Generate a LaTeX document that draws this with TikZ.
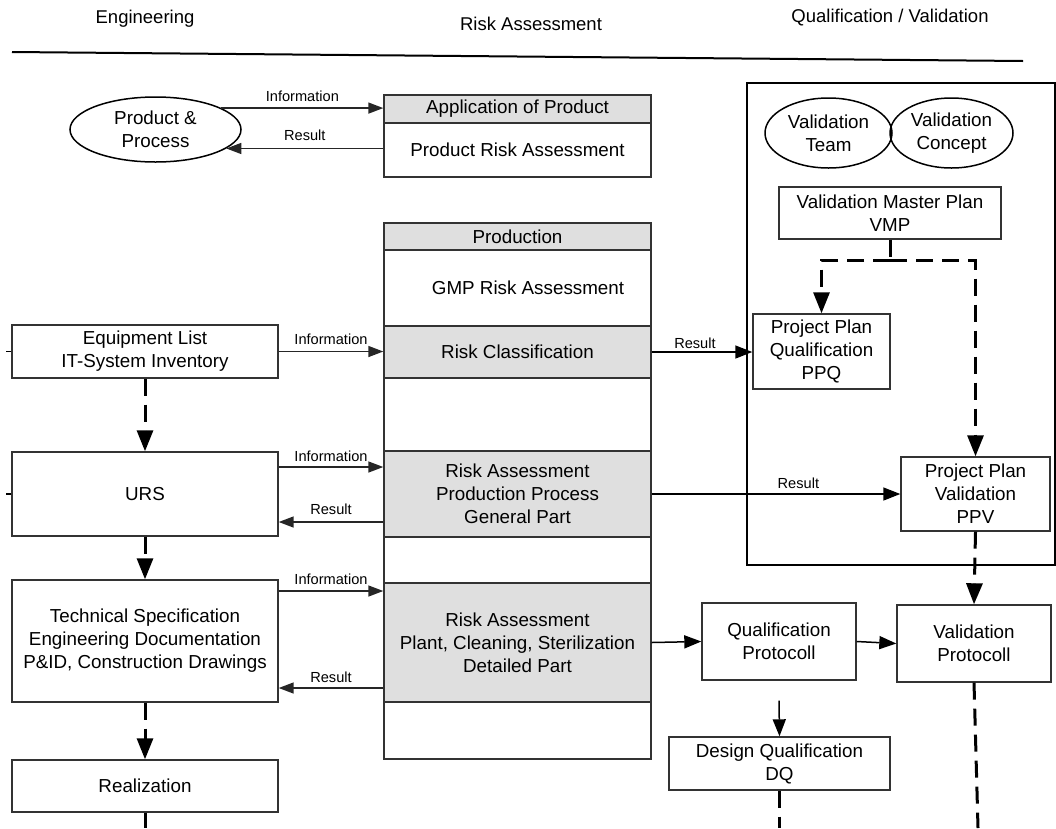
\documentclass[tikz,border=0pt]{standalone}
\usepackage{fontspec}
\setmainfont{Liberation Sans}
\usetikzlibrary{shapes.geometric,arrows.meta}
\definecolor{boxgray}{HTML}{DFDFDF}
\definecolor{edgec}{HTML}{333333}
\begin{document}
\begin{tikzpicture}[x=1pt,y=-1pt,
  box/.style={draw=edgec, line width=1.4pt, fill=white, align=center, inner sep=0pt,
    font=\fontsize{18.8}{23}\selectfont},
  gbox/.style={box, fill=boxgray},
  oval/.style={ellipse, draw=black, line width=1.5pt, align=center, inner sep=0pt,
    font=\fontsize{18.8}{23}\selectfont},
  head/.style={font=\fontsize{18.5}{22}\selectfont, inner sep=0pt},
  lbl/.style={font=\fontsize{14.6}{17}\selectfont, inner sep=1pt},
  conn/.style={draw=black!85, line width=1.5pt, -{Triangle[length=15pt,width=11pt]}},
  bigconn/.style={draw=black, line width=1.5pt, -{Triangle[length=17pt,width=13pt]}},
  dashline/.style={line width=3pt, dash pattern=on 17pt off 9pt},
  dashconn/.style={dashline, -{Triangle[length=21pt,width=16pt]}}
]
\useasboundingbox (0,0) rectangle (1056,828);

% headers
\node[head] (h1) at (145,19) {Engineering};
\node[head] (h2) at (531,24) {Risk Assessment};
\node[head] (h3) at (890,18) {Qualification / Validation};
\coordinate (hl1) at (12,52);
\coordinate (hl2) at (1023,61);
\draw[line width=2pt] (hl1) -- (hl2);

% validation frame
\node[draw=black, line width=2pt, minimum width=308pt, minimum height=482pt, inner sep=0pt] (frame) at (901,324) {};

% product row
\node[oval, minimum width=171pt, minimum height=65pt] (pp) at (155.5,129.5) {Product \&\\Process};
\node[gbox, minimum width=267pt, minimum height=28pt] (apph) at (517.5,109) {Application of Product};
\node[box, minimum width=267pt, minimum height=54pt] (pra) at (517.5,150) {Product Risk Assessment};

% production column
\node[box, minimum width=267pt, minimum height=536pt] (col) at (517.5,491) {};
\node[gbox, minimum width=267pt, minimum height=27pt] (prodh) at (517.5,236.5) {Production};
\node[box, draw=none, fill=none] (gmp) at (528,288) {GMP Risk Assessment};
\node[gbox, minimum width=267pt, minimum height=52pt] (rc) at (517.5,352) {Risk Classification};
\node[gbox, minimum width=267pt, minimum height=86pt] (ga) at (517.5,494) {Risk Assessment\\Production Process\\General Part};
\node[gbox, minimum width=267pt, minimum height=119pt] (pl) at (517.5,642.5) {Risk Assessment\\Plant, Cleaning, Sterilization\\Detailed Part};

% engineering column
\node[box, minimum width=266pt, minimum height=53pt] (equip) at (145,351.5) {Equipment List\\IT-System Inventory};
\node[box, minimum width=266pt, minimum height=84pt] (urs) at (145,494) {URS};
\node[box, minimum width=266pt, minimum height=122pt] (tech) at (145,641) {Technical Specification\\Engineering Documentation\\P\&ID, Construction Drawings};
\node[box, minimum width=266pt, minimum height=52pt] (real) at (145,786) {Realization};

% validation nodes
\node[oval, minimum width=127pt, minimum height=70pt] (vt) at (828.5,133) {Validation\\Team};
\node[oval, minimum width=123pt, minimum height=70pt] (vc) at (951.5,133) {Validation\\Concept};
\node[box, minimum width=222pt, minimum height=52pt] (vmp) at (890,213) {Validation Master Plan\\VMP};
\node[box, minimum width=137pt, minimum height=75pt] (ppq) at (821.5,351.5) {Project Plan\\Qualification\\PPQ};
\node[box, minimum width=149pt, minimum height=74pt] (ppv) at (975.5,494) {Project Plan\\Validation\\PPV};
\node[box, minimum width=154pt, minimum height=77pt] (qp) at (779,641.5) {Qualification\\Protocoll};
\node[box, minimum width=154pt, minimum height=77pt] (vp) at (974,643.5) {Validation\\Protocoll};
\node[box, minimum width=221pt, minimum height=53pt] (dq) at (779.5,763.5) {Design Qualification\\DQ};

% product connectors
\draw[conn] (pp.18.6) -- (pp.18.6 -| apph.west) node[lbl, midway, above=5pt] {Information};
\draw[conn] (pp.-15.9 -| pra.west) -- (pp.-15.9) node[lbl, midway, above=6pt] {Result};

% engineering <-> risk
\draw[conn] (equip.east) -- (equip.east -| rc.west) node[lbl, midway, above=5pt] {Information};
\draw[conn] ([yshift=27pt]urs.east) -- ([yshift=27pt]urs.east -| ga.west) node[lbl, midway, above=4pt] {Information};
\draw[conn] ([yshift=-28pt]urs.east -| ga.west) -- ([yshift=-28pt]urs.east) node[lbl, midway, above=6pt] {Result};
\draw[conn] ([yshift=50pt]tech.east) -- ([yshift=50pt]tech.east -| pl.west) node[lbl, midway, above=5pt] {Information};
\draw[conn] ([yshift=-47pt]tech.east -| pl.west) -- ([yshift=-47pt]tech.east) node[lbl, midway, above=4pt] {Result};

% small stubs
\draw[line width=1.4pt] (equip.west) -- ++(-5,0);
\draw[line width=1.4pt] (urs.west) -- ++(-5,0);

% engineering dashed chain
\coordinate (rend) at (145,828);
\draw[dashconn] (equip.south) -- (urs.north);
\draw[dashconn] (urs.south) -- (tech.north);
\draw[dashconn] (tech.south) -- (real.north);
\draw[dashline] (real.south) -- (rend);

% risk -> validation
\draw[bigconn] (rc.east) -- (rc.east -| ppq.west) node[lbl, pos=0.43, above=2pt] {Result};
\draw[bigconn] (ga.east) -- (ga.east -| ppv.west) node[lbl, pos=0.59, above=4pt] {Result};
\draw[bigconn] (pl.east) -- (qp.west);
\draw[bigconn] (qp.east) -- (vp.west);
\draw[bigconn] ([yshift=-20pt]qp.south) -- (dq.north);

% VMP dashed
\coordinate (vj) at (890,260);
\draw[dashline] (vmp.south) -- (vj);
\draw[dashconn] (vj) -| (ppq.north);
\draw[dashconn] (vj) -| (ppv.north);
\draw[dashconn] (ppv.south) -- (vp.north);
\coordinate (vpend) at (978,828);
\coordinate (dqend) at (779.5,828);
\draw[dashline] (vp.south) -- (vpend);
\draw[dashline] (dq.south) -- (dqend);
\end{tikzpicture}
\end{document}
